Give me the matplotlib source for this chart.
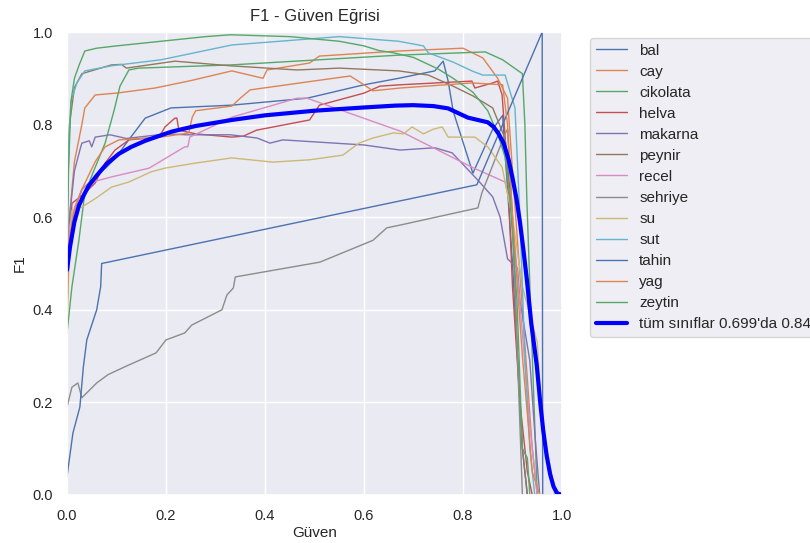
import matplotlib
matplotlib.use("Agg")
import matplotlib.pyplot as plt
import seaborn as sns

sns.set_theme(style="darkgrid")
plt.rcParams['font.family'] = ['Liberation Sans', 'DejaVu Sans']

names = ["bal", "cay", "cikolata", "helva", "makarna", "peynir", "recel",
         "sehriye", "su", "sut", "tahin", "yag", "zeytin"]

bal_x = [0, 0.01, 0.03, 0.06, 0.08, 0.1, 0.117, 0.158, 0.21, 0.333, 0.485, 0.6, 0.67, 0.743, 0.76, 0.77, 0.78, 0.784, 0.82, 0.86, 0.88, 0.9, 0.92, 0.93]
bal_y = [0.45, 0.6, 0.66, 0.69, 0.708, 0.73, 0.756, 0.814, 0.836, 0.842, 0.857, 0.886, 0.9, 0.916, 0.937, 0.894, 0.83, 0.816, 0.695, 0.79, 0.82, 0.5, 0.1, 0.0]

cay_x = [0, 0.005, 0.015, 0.03, 0.036, 0.057, 0.1, 0.178, 0.25, 0.333, 0.396, 0.404, 0.49, 0.51, 0.67, 0.8, 0.84, 0.87, 0.89, 0.9, 0.92, 0.94, 0.95]
cay_y = [0.45, 0.6, 0.72, 0.8, 0.836, 0.864, 0.868, 0.879, 0.895, 0.916, 0.9, 0.918, 0.933, 0.948, 0.959, 0.965, 0.944, 0.9, 0.857, 0.7, 0.4, 0.1, 0.0]

cikolata_x = [0, 0.01, 0.024, 0.036, 0.057, 0.077, 0.095, 0.107, 0.125, 0.145, 0.333, 0.67, 0.845, 0.88, 0.92, 0.925, 0.929, 0.94, 0.95]
cikolata_y = [0.35, 0.45, 0.55, 0.652, 0.708, 0.76, 0.83, 0.883, 0.918, 0.922, 0.929, 0.95, 0.957, 0.94, 0.91, 0.8, 0.637, 0.3, 0.0]

helva_x = [0, 0.005, 0.01, 0.036, 0.057, 0.077, 0.097, 0.125, 0.186, 0.198, 0.218, 0.222, 0.226, 0.26, 0.333, 0.356, 0.383, 0.49, 0.51, 0.6, 0.632, 0.673, 0.818, 0.824, 0.86, 0.87, 0.879, 0.89, 0.9, 0.915, 0.93, 0.94]
helva_y = [0.4, 0.55, 0.63, 0.652, 0.674, 0.717, 0.745, 0.767, 0.773, 0.795, 0.814, 0.814, 0.788, 0.78, 0.773, 0.775, 0.788, 0.81, 0.842, 0.868, 0.883, 0.886, 0.894, 0.879, 0.89, 0.894, 0.864, 0.7, 0.45, 0.2, 0.05, 0.0]

makarna_x = [0, 0.005, 0.015, 0.026, 0.03, 0.045, 0.05, 0.057, 0.087, 0.12, 0.2, 0.24, 0.33, 0.384, 0.41, 0.436, 0.6, 0.673, 0.743, 0.778, 0.83, 0.86, 0.875, 0.89, 0.91, 0.915, 0.935, 0.945, 0.955]
makarna_y = [0.45, 0.6, 0.7, 0.745, 0.76, 0.765, 0.752, 0.773, 0.778, 0.77, 0.78, 0.778, 0.778, 0.771, 0.76, 0.767, 0.756, 0.745, 0.75, 0.739, 0.68, 0.644, 0.6, 0.51, 0.49, 0.42, 0.29, 0.134, 0.0]

peynir_x = [0, 0.005, 0.015, 0.03, 0.09, 0.11, 0.12, 0.218, 0.33, 0.465, 0.55, 0.67, 0.73, 0.78, 0.82, 0.86, 0.885, 0.9, 0.91, 0.92, 0.93]
peynir_y = [0.6, 0.8, 0.88, 0.91, 0.929, 0.93, 0.922, 0.937, 0.927, 0.918, 0.922, 0.916, 0.907, 0.883, 0.862, 0.836, 0.77, 0.6, 0.3, 0.1, 0.0]

recel_x = [0, 0.005, 0.015, 0.03, 0.044, 0.09, 0.166, 0.238, 0.244, 0.248, 0.333, 0.465, 0.485, 0.673, 0.818, 0.885, 0.9, 0.92, 0.935, 0.95]
recel_y = [0.5, 0.58, 0.62, 0.659, 0.674, 0.687, 0.706, 0.752, 0.752, 0.773, 0.816, 0.857, 0.857, 0.786, 0.708, 0.676, 0.6, 0.35, 0.15, 0.0]

sehriye_x = [0, 0.01, 0.022, 0.03, 0.06, 0.083, 0.117, 0.18, 0.2, 0.238, 0.252, 0.313, 0.323, 0.336, 0.34, 0.511, 0.618, 0.646, 0.673, 0.83, 0.838, 0.885, 0.89, 0.9, 0.91, 0.92]
sehriye_y = [0.19, 0.233, 0.242, 0.21, 0.242, 0.26, 0.277, 0.307, 0.335, 0.35, 0.367, 0.4, 0.432, 0.447, 0.471, 0.503, 0.55, 0.577, 0.583, 0.62, 0.652, 0.78, 0.79, 0.6, 0.3, 0.0]

su_x = [0, 0.005, 0.01, 0.03, 0.057, 0.09, 0.125, 0.17, 0.198, 0.26, 0.333, 0.416, 0.49, 0.557, 0.59, 0.618, 0.659, 0.68, 0.697, 0.72, 0.74, 0.758, 0.77, 0.824, 0.85, 0.879, 0.9, 0.92, 0.95, 0.96, 0.98, 0.985]
su_y = [0.35, 0.55, 0.615, 0.622, 0.64, 0.665, 0.676, 0.698, 0.706, 0.717, 0.728, 0.719, 0.724, 0.734, 0.76, 0.771, 0.782, 0.78, 0.795, 0.78, 0.79, 0.795, 0.773, 0.773, 0.752, 0.708, 0.6, 0.45, 0.33, 0.15, 0.04, 0.0]

sut_x = [0, 0.003, 0.008, 0.02, 0.036, 0.09, 0.19, 0.333, 0.55, 0.67, 0.72, 0.73, 0.78, 0.82, 0.84, 0.885, 0.905, 0.915, 0.925, 0.935, 0.945]
sut_y = [0.55, 0.75, 0.85, 0.89, 0.916, 0.927, 0.94, 0.972, 0.99, 0.98, 0.97, 0.955, 0.935, 0.915, 0.907, 0.907, 0.836, 0.6, 0.3, 0.1, 0.0]

tahin_x = [0, 0.012, 0.026, 0.033, 0.04, 0.06, 0.068, 0.07, 0.828, 0.96, 0.961, 1.0]
tahin_y = [0.04, 0.134, 0.19, 0.276, 0.335, 0.40, 0.45, 0.5, 0.67, 1.0, 0.0, 0.0]

yag_x = [0, 0.004, 0.016, 0.03, 0.057, 0.077, 0.105, 0.19, 0.246, 0.253, 0.26, 0.333, 0.35, 0.37, 0.572, 0.6, 0.618, 0.673, 0.818, 0.88, 0.89, 0.9, 0.92, 0.94, 0.955]
yag_y = [0.4, 0.55, 0.62, 0.66, 0.72, 0.752, 0.767, 0.773, 0.782, 0.816, 0.83, 0.84, 0.857, 0.875, 0.905, 0.886, 0.873, 0.879, 0.89, 0.886, 0.8, 0.6, 0.3, 0.05, 0.0]

zeytin_x = [0, 0.003, 0.008, 0.015, 0.025, 0.036, 0.06, 0.1, 0.19, 0.28, 0.33, 0.45, 0.55, 0.6, 0.63, 0.66, 0.7, 0.75, 0.78, 0.82, 0.85, 0.87, 0.885, 0.895, 0.909, 0.92, 0.93, 0.935]
zeytin_y = [0.5, 0.7, 0.85, 0.9, 0.93, 0.959, 0.965, 0.97, 0.98, 0.99, 0.994, 0.99, 0.98, 0.97, 0.96, 0.955, 0.945, 0.92, 0.9, 0.87, 0.83, 0.78, 0.73, 0.637, 0.42, 0.1, 0.08, 0.0]

all_x = [0, 0.003, 0.006, 0.01, 0.015, 0.024, 0.035, 0.044, 0.06, 0.08, 0.105, 0.13, 0.158, 0.19, 0.212, 0.26, 0.333, 0.4, 0.5, 0.6, 0.663, 0.699, 0.74, 0.77, 0.79, 0.81, 0.83, 0.85, 0.862, 0.872, 0.882, 0.892, 0.9, 0.908, 0.915, 0.922, 0.929, 0.938, 0.949, 0.956, 0.962, 0.969, 0.976, 0.983, 0.99, 1.0]
all_y = [0.486, 0.51, 0.535, 0.56, 0.59, 0.625, 0.65, 0.668, 0.69, 0.715, 0.737, 0.752, 0.765, 0.777, 0.785, 0.797, 0.81, 0.82, 0.83, 0.837, 0.841, 0.842, 0.84, 0.835, 0.825, 0.815, 0.81, 0.805, 0.795, 0.78, 0.76, 0.725, 0.685, 0.64, 0.59, 0.53, 0.465, 0.37, 0.28, 0.2, 0.14, 0.085, 0.045, 0.018, 0.004, 0.0]
all_label = "tüm sınıflar 0.699'da 0.84"

series = [(bal_x, bal_y), (cay_x, cay_y), (cikolata_x, cikolata_y), (helva_x, helva_y),
          (makarna_x, makarna_y), (peynir_x, peynir_y), (recel_x, recel_y),
          (sehriye_x, sehriye_y), (su_x, su_y), (sut_x, sut_y), (tahin_x, tahin_y),
          (yag_x, yag_y), (zeytin_x, zeytin_y)]

palette = sns.color_palette("deep", 10)

fig = plt.figure(figsize=(8.1, 5.43), dpi=100)
ax = fig.add_axes([67/810, 48/543, 495/810, 463/543])

for i, (name, (xs, ys)) in enumerate(zip(names, series)):
    ax.plot(xs, ys, lw=1, color=palette[i % 10], label=name)
ax.plot(all_x, all_y, lw=3, color='#0000ff', label=all_label,
        solid_joinstyle='round')

ax.set_xlim(0, 1)
ax.set_ylim(0, 1)
ax.set_xticks([0, 0.2, 0.4, 0.6, 0.8, 1.0])
ax.set_yticks([0, 0.2, 0.4, 0.6, 0.8, 1.0])
ax.tick_params(labelsize=10.5, pad=4)
ax.set_xlabel("Güven", fontsize=11, labelpad=2)
ax.set_ylabel("F1", fontsize=11)
ax.set_title("F1 - Güven Eğrisi", fontsize=12, pad=8)
ax.legend(loc='upper left', bbox_to_anchor=(1.057, 0.988), borderaxespad=0,
          fontsize=11, labelspacing=0.46, handlelength=2.0, frameon=True)

fig.savefig("out.png", dpi=100)
